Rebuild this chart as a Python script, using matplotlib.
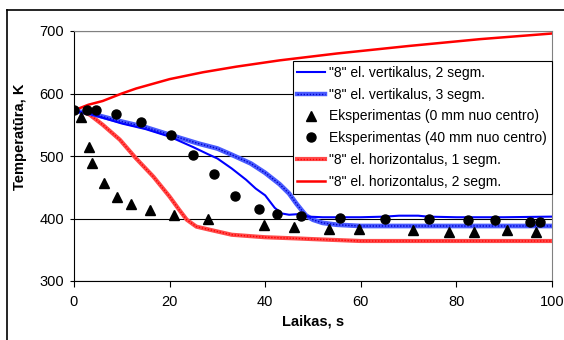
"""Temperature vs time: '8' element simulations against experiment."""

import matplotlib
matplotlib.use("Agg")
import matplotlib.pyplot as plt
from matplotlib.lines import Line2D

plt.rcParams["font.family"] = ["Liberation Sans", "DejaVu Sans"]

# "8" el. vertikalus, 2 segm. (blue solid)
t_v2 = [0, 3, 10, 15, 20, 25, 28, 30, 33, 36, 38, 40, 42, 43.5, 45, 47, 49,
        52, 60, 65, 68, 72, 74, 80, 90, 100]
T_v2 = [572, 568, 552, 543, 531, 514, 503, 496, 480, 462, 448, 437, 417, 408,
        406, 407, 403, 402, 402, 403, 404.5, 404.5, 403, 402, 402, 403]

# "8" el. vertikalus, 3 segm. (blue dotted)
t_v3 = [0, 3, 6, 10, 15, 20, 26, 30, 33, 37, 40, 43, 45, 46.5, 48.5, 50, 52,
        55, 60, 100]
T_v3 = [572, 569, 563, 555, 546, 534, 520, 512, 502, 488, 473, 455, 440, 424,
        405, 398, 393, 390, 388, 388]

# Eksperimentas (0 mm nuo centro) - triangles
t_exp0 = [1.4, 3.1, 3.8, 6.2, 9.1, 12, 16, 21, 28.1, 39.8, 46, 53.4, 59.6,
          70.9, 78.5, 83.6, 90.6, 96.7]
T_exp0 = [563, 515, 489, 457, 435, 423, 413, 406, 400, 390, 387, 383, 383,
          382, 379, 379, 382, 379]

# Eksperimentas (40 mm nuo centro) - circles
t_exp40 = [0, 2.7, 4.6, 8.7, 14, 20.3, 24.9, 29.2, 33.7, 38.6, 42.4, 47.5,
           55.7, 65.1, 74.2, 82.5, 88.1, 95.3, 97.4]
T_exp40 = [574, 573, 573, 568, 555, 533, 502, 471, 436, 415, 408, 404, 401,
           400, 400, 397, 397, 395, 395]

# "8" el. horizontalus, 1 segm. (red dotted)
t_h1 = [0, 2, 3.3, 6, 9.6, 13, 16.6, 20, 22, 23.6, 25.6, 28.4, 33, 40, 47,
        50, 60, 100]
T_h1 = [572, 570, 566, 550, 526, 496, 467, 435, 414, 398, 387, 382, 374,
        370, 368, 367, 364, 364]

# "8" el. horizontalus, 2 segm. (red solid)
t_h2 = [0, 1, 3, 6, 10, 13, 20, 27, 34, 43, 55, 70, 85, 100]
T_h2 = [572, 576, 582, 588, 600, 608, 623, 634, 643, 653, 664, 676, 687, 696]

labels = [
    '"8" el. vertikalus, 2 segm.',
    '"8" el. vertikalus, 3 segm.',
    "Eksperimentas (0 mm nuo centro)",
    "Eksperimentas (40 mm nuo centro)",
    '"8" el. horizontalus, 1 segm.',
    '"8" el. horizontalus, 2 segm.',
]

W, H = 564, 340
fig = plt.figure(figsize=(W / 100, H / 100), dpi=100)
ax = fig.add_axes([74 / W, 1 - 281 / H, (552 - 74) / W, (281 - 31) / H])

BLUE = "#0000ff"
BLUE_LT = "#4a5cff"
RED = "#ff0000"
RED_LT = "#ff4a4a"

ax.plot(t_h2, T_h2, color=RED, lw=1.8, zorder=3)
# textured thick lines: light base with a dotted overlay
ax.plot(t_h1, T_h1, color=RED_LT, lw=3.0, zorder=3)
ax.plot(t_h1, T_h1, color=RED, lw=1.0, ls=(0, (1, 1.2)), zorder=3)
ax.plot(t_v3, T_v3, color=BLUE_LT, lw=3.4, zorder=3)
ax.plot(t_v3, T_v3, color="#0000cc", lw=1.0, ls=(0, (1, 1.2)), zorder=3)
ax.plot(t_v2, T_v2, color=BLUE, lw=1.5, zorder=4)
ax.plot(t_exp0, T_exp0, ls="none", marker="^", ms=6.5, color="black", zorder=5)
ax.plot(t_exp40, T_exp40, ls="none", marker="o", ms=6.5, color="black", zorder=5)

ax.set_xlim(0, 100)
ax.set_ylim(300, 700)
ax.set_xticks(range(0, 101, 20))
ax.set_yticks(range(300, 701, 100))
ax.grid(True, axis="y", color="black", lw=0.8)
ax.set_axisbelow(True)
ax.tick_params(direction="out", length=4, width=0.8, labelsize=10.5, pad=6)
ax.tick_params(axis="y", length=3, pad=4)
for side in ("top", "right"):
    ax.spines[side].set_color("#808080")
for side in ("left", "bottom"):
    ax.spines[side].set_color("black")

ax.set_xlabel("Laikas, s", fontsize=10.5, fontweight="bold", labelpad=4)
fig.text(20 / W, 1 - 137 / H, "Temperatūra, K", rotation=90, fontsize=10.5,
         fontweight="bold", ha="center", va="center")

handles = [
    Line2D([], [], color=BLUE, lw=1.5),
    (Line2D([], [], color=BLUE_LT, lw=3.2),
     Line2D([], [], color="#0000cc", lw=1.0, ls=(0, (1, 1.2)))),
    Line2D([], [], ls="none", marker="^", ms=6.5, color="black"),
    Line2D([], [], ls="none", marker="o", ms=6.5, color="black"),
    (Line2D([], [], color=RED_LT, lw=3.0),
     Line2D([], [], color=RED, lw=1.0, ls=(0, (1, 1.2)))),
    Line2D([], [], color=RED, lw=1.8),
]
leg = ax.legend(handles, labels, loc="upper right",
                bbox_to_anchor=(1.0, (281 - 61) / 250), fontsize=10,
                frameon=True, fancybox=False, framealpha=1, edgecolor="black",
                borderpad=0.35, labelspacing=0.56, handlelength=2.0,
                handletextpad=0.3, borderaxespad=0)
leg.get_frame().set_linewidth(0.8)
leg.set_zorder(6)

# outer chart frame
fig.add_artist(Line2D([7 / W, 7 / W], [0, 1 - 10 / H], color="black", lw=1.2))
fig.add_artist(Line2D([7 / W, 1], [1 - 10 / H, 1 - 10 / H], color="black", lw=1.2))

fig.savefig("out.png", dpi=100)
